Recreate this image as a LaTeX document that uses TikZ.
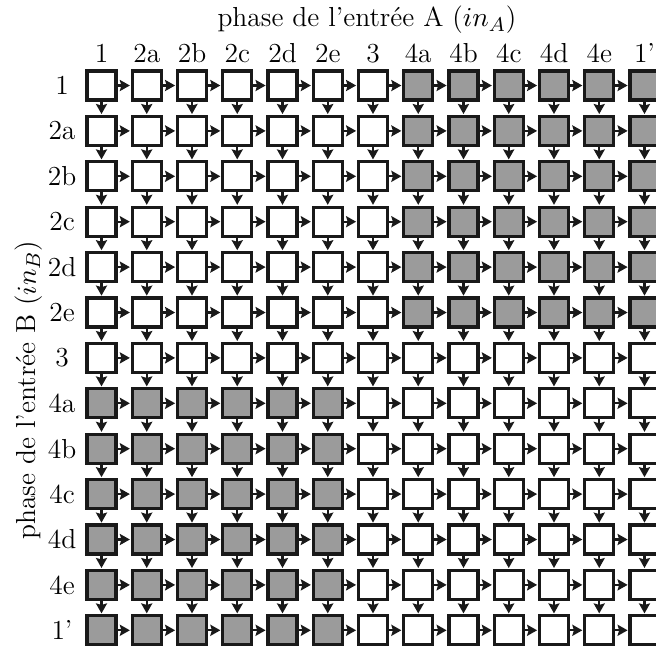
\documentclass[tikz,border=0pt]{standalone}
\usepackage{fontspec}
\usetikzlibrary{arrows.meta}
\definecolor{boxgray}{RGB}{155,155,155}
\begin{document}
\begin{tikzpicture}[x=0.4pt,y=-0.4pt,
  cell/.style={draw=black!90, line width=1.3pt, minimum size=11.6pt, inner sep=0pt, fill=white},
  shaded/.style={cell, fill=boxgray},
  conn/.style={line width=0.9pt, black!90, shorten >=0.3pt, -{Stealth[length=4pt,width=4.4pt,inset=0.6pt]}},
  lbl/.style={font=\fontsize{11}{13}\selectfont, inner sep=0pt}]
\useasboundingbox (0,0) rectangle (656,648);
% titles
\node[lbl] (titleA) at (367,20) {phase de l'entrée A ($in_A$)};
\node[lbl, rotate=90] (titleB) at (29,390) {phase de l'entrée B ($in_B$)};
% labels
\foreach \l [count=\i from 0] in {1,2a,2b,2c,2d,2e,3,4a,4b,4c,4d,4e,1'} {
  \node[lbl, anchor=base] (col-\i) at (101.5+45.25*\i, 62) {\l};
  \node[lbl] (row-\i) at (62, 85.5+45.4*\i) {\l};
}
% cells
\foreach \j in {0,...,12} {
  \foreach \i in {0,...,12} {
    \pgfmathtruncatemacro\sh{or(and(\j<6,\i>6),and(\j>6,\i<6))}
    \ifnum\sh=1 \def\st{shaded}\else\def\st{cell}\fi
    \node[\st] (c-\i-\j) at (101.5+45.25*\i, 85.5+45.4*\j) {};
  }
}
% connectors
\foreach \j in {0,...,12} {
  \foreach \i [evaluate=\i as \n using int(\i+1)] in {0,...,11} {
    \draw[conn] (c-\i-\j.east) -- (c-\n-\j.west);
    \draw[conn] (c-\j-\i.south) -- (c-\j-\n.north);
  }
}
\end{tikzpicture}
\end{document}
